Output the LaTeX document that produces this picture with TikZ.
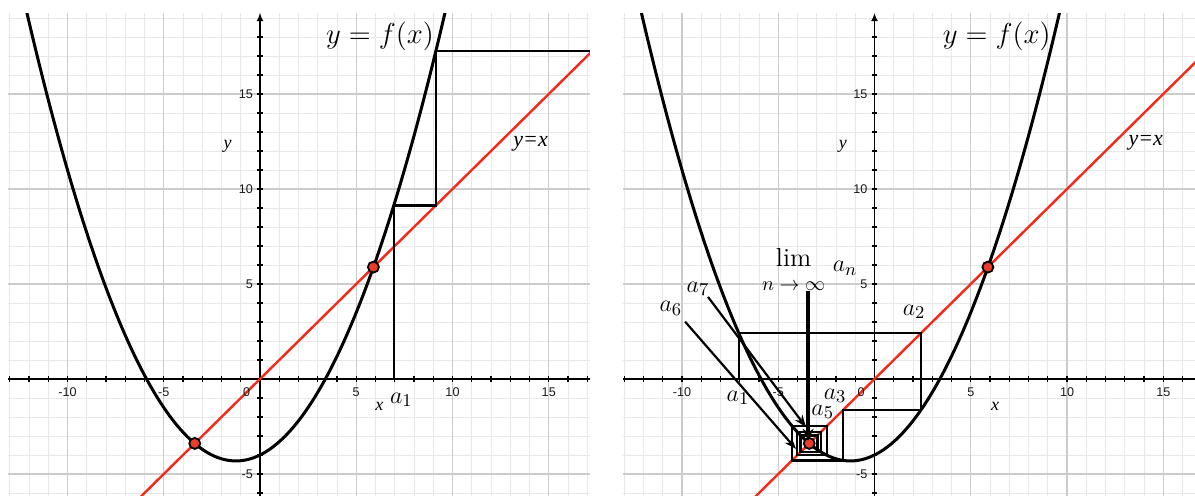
\documentclass[tikz,border=0pt]{standalone}
\usepackage{fontspec}
\newfontfamily\tickfont{Liberation Sans}
\newfontfamily\labfont{Liberation Serif}
\usetikzlibrary{arrows.meta}
\definecolor{gmin}{gray}{0.91}
\definecolor{gmaj}{gray}{0.80}
\definecolor{redl}{RGB}{245,40,25}
\definecolor{dotred}{RGB}{235,60,40}
\tikzset{
 gridminor/.style={draw=gmin,line width=0.5pt},
 gridmajor/.style={draw=gmaj,line width=0.6pt},
 axisline/.style={draw=black,line width=0.8pt},
 tickmark/.style={draw=black,line width=0.7pt},
 fcurve/.style={draw=black,line width=1.5pt},
 idline/.style={draw=redl,line width=1.2pt},
 cobweb/.style={draw=black,line width=1.15pt,line join=miter},
 fixdot/.style={circle,fill=dotred,draw=black,line width=0.9pt,inner sep=0pt,minimum size=5.5pt},
 ticklab/.style={font=\tickfont\fontsize{6.3}{7}\selectfont,text=black!90,inner sep=0.5pt},
 axlab/.style={font=\labfont\itshape\fontsize{9}{10}\selectfont,inner sep=0pt},
 idlab/.style={font=\labfont\itshape\fontsize{11}{12}\selectfont,inner sep=0pt},
 seqlab/.style={font=\fontsize{13}{15}\selectfont,inner sep=0pt},
 sublab/.style={font=\fontsize{10}{12}\selectfont,inner sep=0pt},
 titlelab/.style={font=\fontsize{14.5}{17}\selectfont,inner sep=0pt},
 thinarrow/.style={draw=black,line width=1.1pt,-{Stealth[length=6pt,width=4.5pt]}},
 thickarrow/.style={draw=black,line width=2.2pt,-{Stealth[length=6pt,width=5.5pt]}},
 axisarrow/.style={draw=black,line width=0.8pt,-{Latex[length=4pt,width=3.5pt]}},
}
\newcommand\drawpanel[2]{%
 \begin{scope}
  \clip (#1,-6.105) rectangle (#2,19.26);
  \foreach \i in {-13,...,17} \draw[gridminor] (\i,-6.2) -- (\i,19.3);
  \foreach \j in {-6,...,19} \draw[gridminor] (#1,\j) -- (#2,\j);
  \foreach \i in {-10,-5,0,5,10,15} \draw[gridmajor] (\i,-6.2) -- (\i,19.3);
  \foreach \j in {-5,0,5,10,15} \draw[gridmajor] (#1,\j) -- (#2,\j);
  \draw[axisline] (#1,0) -- (#2,0);
  \foreach \i in {-13,...,17} \draw[tickmark] (\i,-0.15) -- (\i,0.15);
  \foreach \j in {-6,...,-1} \draw[tickmark] (-0.15,\j) -- (0.15,\j);
  \foreach \j in {1,...,18} \draw[tickmark] (-0.15,\j) -- (0.15,\j);
  \draw[axisarrow] (0,-6.2) -- (0,19.26);
  \draw[idline] (-7,-7) -- (18,18);
  \draw[fcurve] plot[domain=-13.2:10,samples=140,smooth] (\x,{0.2*\x*\x+0.5*\x-4});
 \end{scope}
 \foreach \i in {-10,-5,5,10,15} \node[ticklab] at (\i,-0.67) {\i};
 \node[ticklab] at (-0.7,-0.67) {0};
 \foreach \j in {-5,5,10,15} \node[ticklab,anchor=east] at (-0.3,\j) {\j};
}
\begin{document}
\begin{tikzpicture}
\useasboundingbox (0,0) rectangle (597.5pt,247.5pt);
% ---------- left panel ----------
\begin{scope}[shift={(130pt,58pt)},x=9.625pt,y=9.5pt]
 \drawpanel{-13.09}{17.14}
 \begin{scope}
  \clip (-13.09,-6.105) rectangle (17.14,19.26);
  \draw[cobweb] (6.95,0) -- (6.95,9.135) -- (9.135,9.135) -- (9.135,17.26) -- (17.3,17.26);
 \end{scope}
 \node[fixdot] (pL1) at (-3.39,-3.39) {};
 \node[fixdot] (pL2) at (5.89,5.89) {};
 \node[titlelab] (ttlL) at (6.23,18.02) {$y = f(x)$};
 \node[idlab] (idL) at (14.06,12.4) {y=x};
 \node[axlab] (yL) at (-1.68,12.23) {y};
 \node[axlab] (xL) at (6.2,-1.42) {x};
 \node[seqlab] (a1L) at (7.34,-1.1) {$a_1$};
\end{scope}
% ---------- right panel ----------
\begin{scope}[shift={(437.25pt,58pt)},x=9.625pt,y=9.5pt]
 \drawpanel{-13.06}{16.7}
 \draw[cobweb] (-7.05,0) -- (-7.05,2.4155) -- (2.4155,2.4155) -- (2.4155,-1.6253)
   -- (-1.6253,-1.6253) -- (-1.6253,-4.2843) -- (-4.2843,-4.2843) -- (-4.2843,-2.4711)
   -- (-2.4711,-2.4711) -- (-2.4711,-4.0143) -- (-4.0143,-4.0143) -- (-4.0143,-2.7842)
   -- (-2.7842,-2.7842) -- (-2.7842,-3.8417) -- (-3.8417,-3.8417) -- (-3.8417,-2.9691)
   -- (-2.9691,-2.9691) -- (-2.9691,-3.7215);
 \node[fixdot] (pR1) at (-3.39,-3.39) {};
 \node[fixdot] (pR2) at (5.89,5.89) {};
 \coordinate (s6) at (-9.84,3.02);
 \coordinate (e6) at (-4.08,-3.68);
 \coordinate (s7) at (-8.65,4.32);
 \coordinate (e7) at (-3.56,-2.53);
 \coordinate (sl) at (-3.45,4.63);
 \coordinate (el) at (-3.45,-3.25);
 \draw[thinarrow] (s6) -- (e6);
 \draw[thinarrow] (s7) -- (e7);
 \draw[thickarrow] (sl) -- (el);
 \node[titlelab] (ttlR) at (6.35,18.02) {$y = f(x)$};
 \node[idlab] (idR) at (14.09,12.44) {y=x};
 \node[axlab] (yR) at (-1.65,12.23) {y};
 \node[axlab] (xR) at (6.26,-1.42) {x};
 \node[seqlab] (a1R) at (-7.09,-1.0) {$a_1$};
 \node[seqlab] (a2R) at (2.06,3.54) {$a_2$};
 \node[seqlab] (a3R) at (-2.05,-0.89) {$a_3$};
 \node[seqlab] (a5R) at (-2.69,-1.72) {$a_5$};
 \node[seqlab] (a6R) at (-10.58,3.72) {$a_6$};
 \node[seqlab] (a7R) at (-9.17,4.74) {$a_7$};
 \node[seqlab] (limR) at (-4.2,6.4) {$\lim$};
 \node[sublab] (limsub) at (-4.2,4.9) {$n\to\infty$};
 \node[seqlab] (anR) at (-1.53,5.83) {$a_n$};
\end{scope}
\end{tikzpicture}
\end{document}
